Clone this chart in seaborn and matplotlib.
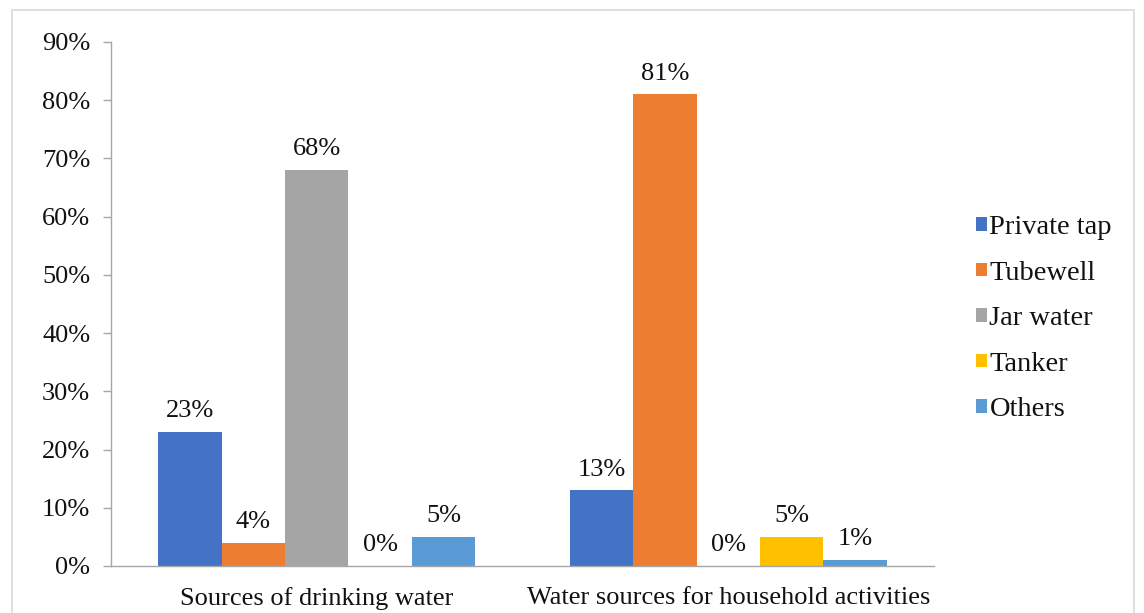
import matplotlib
matplotlib.use("Agg")
import matplotlib.pyplot as plt
from matplotlib.patches import Rectangle
from matplotlib.ticker import FixedLocator
import seaborn as sns
import pandas as pd

categories = ["Sources of drinking water", "Water sources for household activities"]
sources = ["Private tap", "Tubewell", "Jar water", "Tanker", "Others"]
drinking = [23, 4, 68, 0, 5]
household = [13, 81, 0, 5, 1]
y_ticks = [0, 10, 20, 30, 40, 50, 60, 70, 80, 90]

colors = ["#4472C4", "#ED7D31", "#A5A5A5", "#FFC000", "#5B9BD5"]

rows = []
for cat, vals in zip(categories, [drinking, household]):
    for src, v in zip(sources, vals):
        rows.append({"category": cat, "source": src, "value": v})
df = pd.DataFrame(rows)

sns.set_theme(style="white")
plt.rcParams["font.family"] = ["Liberation Serif", "DejaVu Serif"]
FS = 19
TXT = "#111111"

fig = plt.figure(figsize=(11.44, 6.13), dpi=100)
ax = fig.add_axes([0.097, 0.0767, 0.7195, 0.855])

sns.barplot(data=df, x="category", y="value", hue="source", order=categories,
            hue_order=sources, palette=colors, width=0.77, saturation=1,
            edgecolor="none", linewidth=0, ax=ax)

# value labels above each bar
for container, src in zip(ax.containers, sources):
    for bar in container:
        h = bar.get_height()
        ax.annotate(f"{h:.0f}%", (bar.get_x() + bar.get_width() / 2, h),
                    xytext=(0, 7), textcoords="offset points",
                    ha="center", va="bottom", fontsize=FS, color=TXT)

ax.set_xlim(-0.5, 1.5)
ax.set_ylim(0, 90)
ax.set_yticks(y_ticks)
ax.set_yticklabels([f"{t}%" for t in y_ticks], fontsize=FS, color=TXT)
ax.set_xticks([0, 1])
ax.set_xticklabels(categories, fontsize=FS, color=TXT)
ax.xaxis.set_minor_locator(FixedLocator([-0.5, 0.5, 1.5]))
ax.tick_params(axis="x", which="major", length=0, pad=15)
ax.tick_params(axis="x", which="minor", length=7, color="#A6A6A6", width=1, direction="out")
ax.tick_params(axis="y", length=6, color="#A6A6A6", width=1, direction="out", left=True, pad=9)
ax.set_xlabel("")
ax.set_ylabel("")

for side in ["top", "right"]:
    ax.spines[side].set_visible(False)
for side in ["left", "bottom"]:
    ax.spines[side].set_color("#A6A6A6")
    ax.spines[side].set_linewidth(1)

leg = ax.legend(loc="upper left", bbox_to_anchor=(0.841, 0.672), bbox_transform=fig.transFigure,
                frameon=False, fontsize=20.5, handlelength=0.36, handleheight=0.36,
                handletextpad=0.1, labelspacing=0.72, borderpad=0)
for t in leg.get_texts():
    t.set_color(TXT)

# outer chart frame
fig.patches.append(Rectangle((12 / 1144, -0.02), 1 - 22 / 1144, 1 - 10 / 613 + 0.02,
                             transform=fig.transFigure, fill=False,
                             edgecolor="#D9D9D9", linewidth=1.2))

fig.savefig("out.png", dpi=100)
